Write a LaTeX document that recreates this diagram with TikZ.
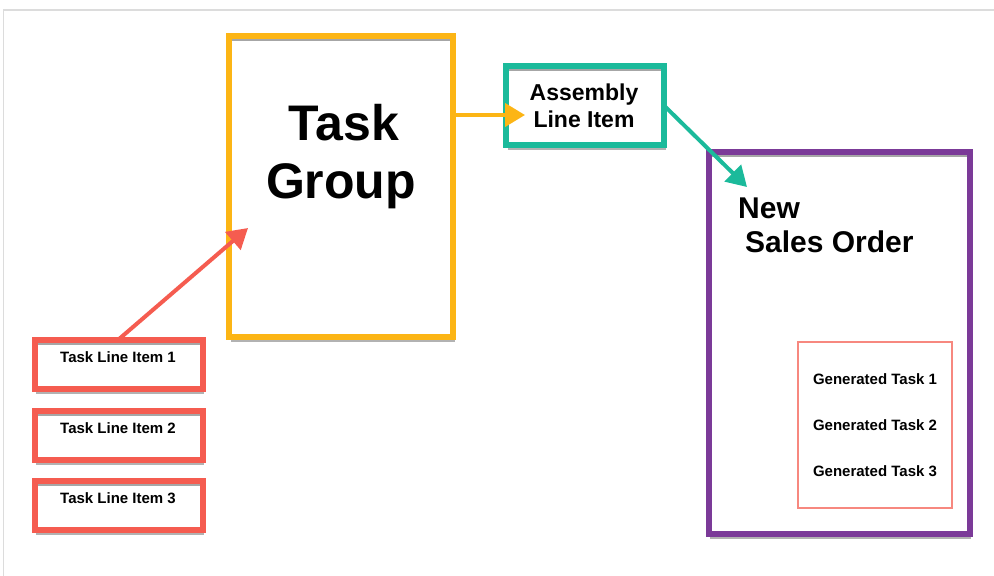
\documentclass[tikz,border=0pt]{standalone}
\usepackage{fontspec}
\setmainfont{Liberation Sans}
\usetikzlibrary{shadows,arrows.meta}
\definecolor{tgorange}{HTML}{FCB515}
\definecolor{tealc}{HTML}{1BBA9B}
\definecolor{purp}{HTML}{7B3A98}
\definecolor{coral}{HTML}{F55C50}
\definecolor{lcoral}{HTML}{F7887F}
\definecolor{framegray}{HTML}{DCDCDC}
\begin{document}
\begin{tikzpicture}[x=1pt,y=-1pt,
  box/.style={draw, fill=white, line width=6pt, inner sep=0pt, outer sep=0pt,
    drop shadow={shadow xshift=1.5pt, shadow yshift=-5pt, opacity=.3, fill=black},
    path picture={\fill[black, opacity=.35] ([yshift=-3pt]path picture bounding box.north west) rectangle ([yshift=-5pt]path picture bounding box.north east);}},
  tlibox/.style={box, draw=coral, minimum width=168pt, minimum height=49pt},
  lbl/.style={inner sep=0pt, anchor=base, font=\bfseries\fontsize{15}{18}\selectfont},
  arr/.style={line width=4pt, -{Triangle[length=20pt,width=23pt]}}]
\useasboundingbox (0,0) rectangle (994,576);
\draw[framegray, line width=1.5pt] (3.5,576) -- (3.5,10) -- (994,10);

% boxes
\node[box, draw=tgorange, minimum width=224pt, minimum height=301pt] (tg) at (341,186.5) {};
\node[box, draw=tealc, minimum width=158pt, minimum height=79pt] (asm) at (585,105.5) {};
\node[box, draw=purp, minimum width=261pt, minimum height=382pt] (so) at (839,342.5) {};
\node[draw=lcoral, line width=1.5pt, fill=white, minimum width=154pt, minimum height=166pt, inner sep=0pt] (gen) at (875,425) {};
\node[tlibox] (tli1) at (118.5,364) {};
\node[tlibox] (tli2) at (118.5,435) {};
\node[tlibox] (tli3) at (118.5,505) {};

% texts
\node[inner sep=0pt, anchor=base, font=\bfseries\fontsize{50}{58}\selectfont] (tgt1) at (344,140) {Task};
\node[inner sep=0pt, anchor=base, font=\bfseries\fontsize{50}{58}\selectfont] (tgt2) at (341,198) {Group};
\node[inner sep=0pt, anchor=base, font=\bfseries\fontsize{23}{27}\selectfont] (asmt1) at (584,100) {Assembly};
\node[inner sep=0pt, anchor=base, font=\bfseries\fontsize{23}{27}\selectfont] (asmt2) at (584,127) {Line Item};
\node[inner sep=0pt, anchor=base west, font=\bfseries\fontsize{30}{34}\selectfont] (sot1) at (738,218) {New};
\node[inner sep=0pt, anchor=base west, font=\bfseries\fontsize{30}{34}\selectfont] (sot2) at (745,252) {Sales Order};
\node[lbl] (g1) at (875,384) {Generated Task 1};
\node[lbl] (g2) at (875,430) {Generated Task 2};
\node[lbl] (g3) at (875,476) {Generated Task 3};
\node[lbl] (t1) at (118,362) {Task Line Item 1};
\node[lbl] (t2) at (118,433) {Task Line Item 2};
\node[lbl] (t3) at (118,503) {Task Line Item 3};

% arrows
\coordinate (otip) at (525,115);
\coordinate (ttip) at (747,187);
\coordinate (rtip) at (248,228);
\draw[arr, tgorange] (tg.east |- otip) -- (otip);
\draw[arr, tealc] (asm.east) -- (ttip);
\draw[arr, coral] (tli1.north) -- (rtip);
\end{tikzpicture}
\end{document}
